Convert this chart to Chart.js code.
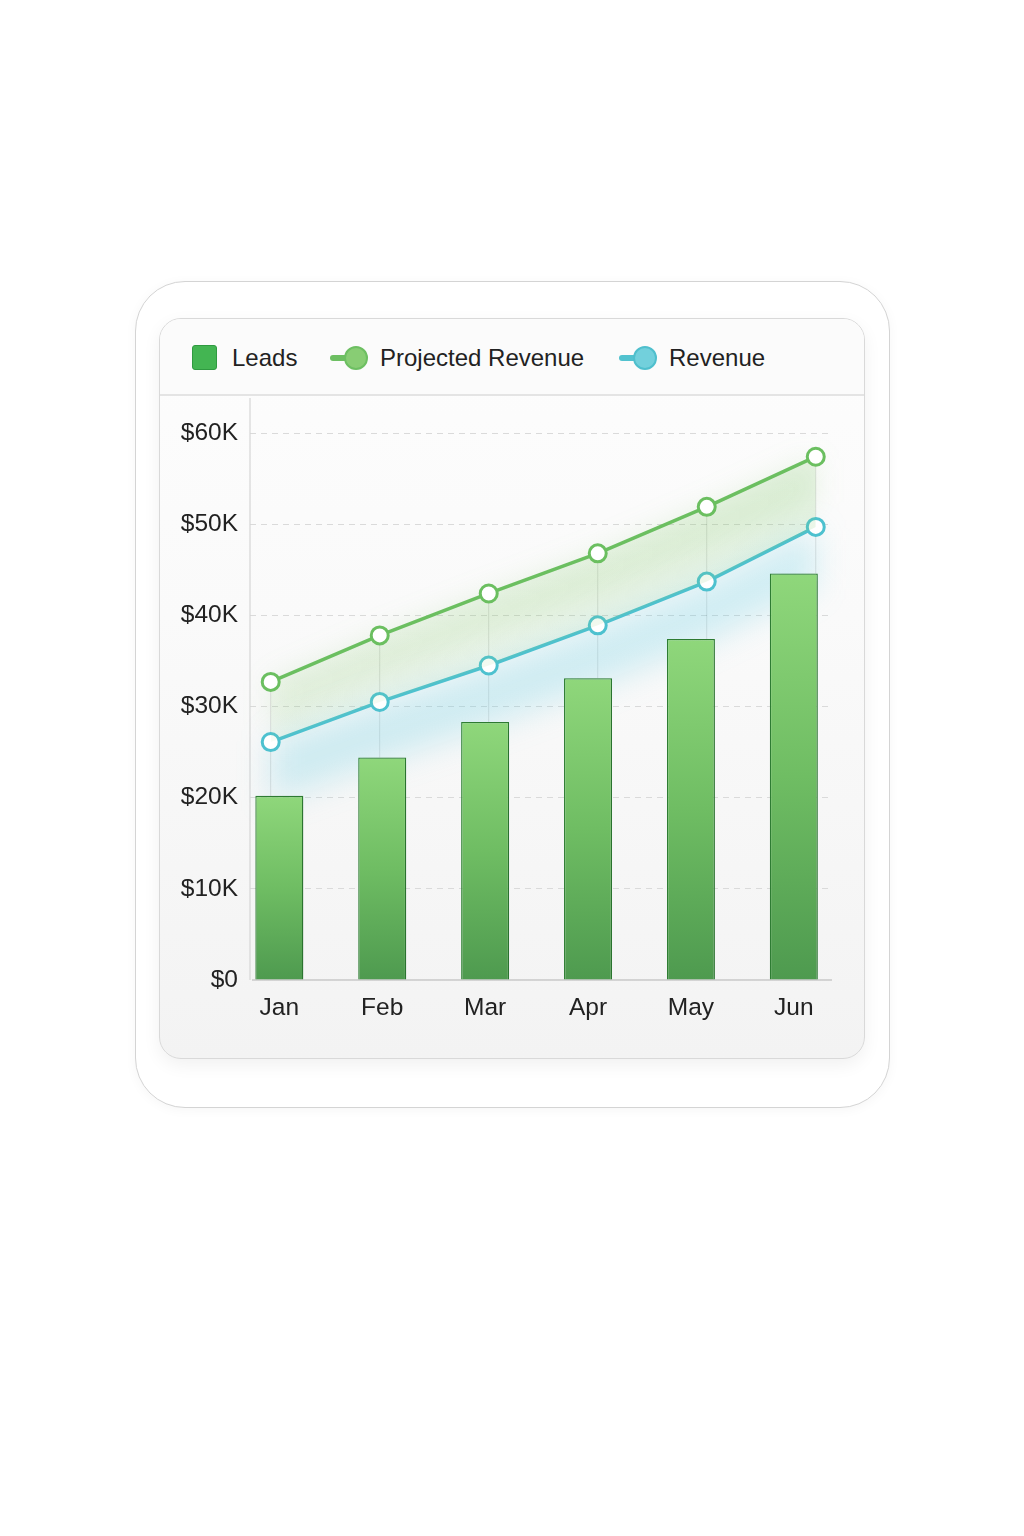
<!DOCTYPE html>
<html>
<head>
<meta charset="utf-8">
<script src="https://cdn.jsdelivr.net/npm/chart.js@4.4.1/dist/chart.umd.min.js"></script>
<style>
html,body{margin:0;padding:0;background:#fff;width:1024px;height:1536px;overflow:hidden;font-family:"Liberation Sans",Arial,sans-serif;}
#card{position:absolute;left:135px;top:281px;width:755px;height:827px;box-sizing:border-box;border:1.5px solid #d4d4d4;border-radius:50px;background:#fff;box-shadow:0 2px 12px rgba(0,0,0,0.04);}
#panel{position:absolute;left:159px;top:318px;width:706px;height:741px;box-sizing:border-box;border:1.5px solid #d9d9d9;border-radius:22px;background:linear-gradient(#fdfdfd,#fafafa 40%,#f3f3f3);box-shadow:0 6px 18px rgba(0,0,0,0.06);overflow:hidden;}
#legend{position:absolute;left:0;top:0;width:100%;height:75px;border-bottom:2px solid #e4e4e4;background:#fbfbfb;}
.item{position:absolute;top:0;height:77px;display:flex;align-items:center;font-size:24px;color:#222;white-space:nowrap;}
.sq{width:25px;height:25px;border-radius:3px;background:#43b552;border:1.5px solid #2f9a40;box-sizing:border-box;margin-right:15px;}
.ln{position:relative;width:38px;height:24px;margin-right:12px;}
.ln .bar{position:absolute;left:0;top:9px;width:24px;height:6px;border-radius:3px;}
.ln .dot{position:absolute;right:0;top:0;width:24px;height:24px;border-radius:50%;box-sizing:border-box;border:2px solid;}
#chartBox{position:absolute;left:160px;top:396px;width:704px;height:660px;}
</style>
</head>
<body>
<div id="card"></div>
<div id="panel">
  <div id="legend">
    <div class="item" style="left:32px"><div class="sq"></div>Leads</div>
    <div class="item" style="left:170px"><div class="ln"><div class="bar" style="background:#6dbf62"></div><div class="dot" style="background:#88cd74;border-color:#6dbf62"></div></div>Projected Revenue</div>
    <div class="item" style="left:459px"><div class="ln"><div class="bar" style="background:#52c2cf"></div><div class="dot" style="background:#72d0dc;border-color:#4fbfcd"></div></div>Revenue</div>
  </div>
</div>
<div id="chartBox"><canvas id="myChart"></canvas></div>
<script>
var months = ["Jan", "Feb", "Mar", "Apr", "May", "Jun"];
var leads = [20200, 24400, 28300, 33100, 37400, 44600];
var projected = [32700, 37800, 42400, 46800, 51900, 57400];
var revenue = [26100, 30500, 34500, 38900, 43700, 49700];
var yTickLabels = ["$0", "$10K", "$20K", "$30K", "$40K", "$50K", "$60K"];

function pts(arr) {
    return arr.map(function (v, i) { return { x: i, y: v }; });
}

function barFill(ctx) {
    var chart = ctx.chart;
    if (!chart.chartArea || !chart.scales.y) return "#6fbf62";
    var y = chart.scales.y;
    var top = y.getPixelForValue(ctx.raw ? ctx.raw.y : 0);
    var bot = y.getPixelForValue(0);
    var g = chart.ctx.createLinearGradient(0, top, 0, bot);
    g.addColorStop(0, "#8fd77b");
    g.addColorStop(0.5, "#6fbd63");
    g.addColorStop(1, "#4e9a4f");
    return g;
}

function bandFill(ctx) {
    var chart = ctx.chart;
    var a = chart.chartArea;
    if (!a) return "rgba(130,200,110,0.12)";
    var g = chart.ctx.createLinearGradient(a.left, 0, a.right, 0);
    g.addColorStop(0, "rgba(150,210,130,0.07)");
    g.addColorStop(1, "rgba(130,200,110,0.16)");
    return g;
}

// vertical guide from each projected point down to the bar top, plus axes
var guides = {
    id: "guides",
    beforeDatasetsDraw: function (chart) {
        var c = chart.ctx, y = chart.scales.y, x2 = chart.scales.x2, a = chart.chartArea;
        c.save();
        c.strokeStyle = "rgba(0,0,0,0.12)";
        c.lineWidth = 1;
        for (var i = 0; i < months.length; i++) {
            var px = x2.getPixelForValue(i);
            c.beginPath();
            c.moveTo(px, y.getPixelForValue(projected[i]));
            c.lineTo(px, y.getPixelForValue(leads[i]));
            c.stroke();
        }
        c.strokeStyle = "#d6d6d6";
        c.lineWidth = 1.2;
        c.beginPath();
        c.moveTo(a.left, 2);
        c.lineTo(a.left, a.bottom);
        c.stroke();
        c.strokeStyle = "#c8c8c8";
        c.lineWidth = 1.5;
        c.beginPath();
        c.moveTo(a.left + 2, a.bottom);
        c.lineTo(a.right, a.bottom);
        c.stroke();
        c.restore();
    }
};

// soft blurred haze under a line dataset
var haze = {
    id: "haze",
    beforeDatasetsDraw: function (chart) {
        var c = chart.ctx;
        chart.data.datasets.forEach(function (ds, di) {
            if (!ds.hazeColor) return;
            var p = chart.getDatasetMeta(di).data;
            c.save();
            c.filter = "blur(" + ds.hazeBlur + "px)";
            c.fillStyle = ds.hazeColor;
            c.beginPath();
            c.moveTo(p[0].x, p[0].y);
            for (var i = 1; i < p.length; i++) c.lineTo(p[i].x, p[i].y);
            for (var j = p.length - 1; j >= 0; j--) c.lineTo(p[j].x, p[j].y + ds.hazeDepth);
            c.closePath();
            c.fill();
            c.restore();
        });
    }
};

var glow = {
    id: "glow",
    beforeDatasetDraw: function (chart, args) {
        var ds = chart.data.datasets[args.index];
        if (!ds.glowColor) return;
        var c = chart.ctx;
        c.save();
        c.shadowColor = ds.glowColor;
        c.shadowBlur = ds.glowBlur;
        c.shadowOffsetX = ds.glowX || 0;
        c.shadowOffsetY = ds.glowY || 0;
    },
    afterDatasetDraw: function (chart, args) {
        var ds = chart.data.datasets[args.index];
        if (!ds.glowColor) return;
        chart.ctx.restore();
    }
};

var ctx = document.getElementById("myChart").getContext("2d");
var myChart = new Chart(ctx, {
    type: "bar",
    data: {
        datasets: [
            {
                type: "bar",
                label: "Leads",
                data: pts(leads),
                xAxisID: "x",
                backgroundColor: barFill,
                borderColor: "#2f8034",
                borderWidth: 1.3,
                grouped: false,
                maxBarThickness: 48,
                order: 3,
                glowColor: "rgba(0,0,0,0.14)",
                glowBlur: 16,
                glowX: 6,
                glowY: 2
            },
            {
                type: "line",
                label: "Projected Revenue",
                data: pts(projected),
                xAxisID: "x2",
                borderColor: "#6bbf60",
                borderWidth: 3.5,
                pointRadius: 8.5,
                pointHoverRadius: 8.5,
                pointBorderWidth: 3,
                pointBackgroundColor: "#fff",
                pointBorderColor: "#6bbf60",
                fill: "+1",
                backgroundColor: bandFill,
                tension: 0,
                order: 1,
                hazeColor: "rgba(120,195,95,0.15)",
                hazeBlur: 14,
                hazeDepth: 45
            },
            {
                type: "line",
                label: "Revenue",
                data: pts(revenue),
                xAxisID: "x2",
                borderColor: "#4dc1cf",
                borderWidth: 3.5,
                pointRadius: 8.5,
                pointHoverRadius: 8.5,
                pointBorderWidth: 3,
                pointBackgroundColor: "#fff",
                pointBorderColor: "#4dc1cf",
                fill: false,
                tension: 0,
                order: 2,
                hazeColor: "rgba(90,200,225,0.26)",
                hazeBlur: 16,
                hazeDepth: 60
            }
        ]
    },
    options: {
        responsive: true,
        maintainAspectRatio: false,
        animation: false,
        layout: { padding: { top: 37, right: 32, left: 0, bottom: 0 } },
        plugins: { legend: { display: false }, tooltip: { enabled: false } },
        scales: {
            x: {
                type: "linear",
                offset: false,
                min: -0.285,
                max: 5.371,
                afterBuildTicks: function (s) { s.ticks = months.map(function (m, i) { return { value: i }; }); },
                afterFit: function (s) { s.height = 76; },
                ticks: {
                    callback: function (v) { return months[v]; },
                    color: "#222",
                    font: { family: "Liberation Sans", size: 24.5 },
                    padding: 14,
                    maxRotation: 0
                },
                grid: { display: false, drawTicks: false },
                border: { display: false }
            },
            x2: {
                type: "linear",
                offset: false,
                min: -0.19,
                max: 5.149,
                display: false
            },
            y: {
                min: 0,
                max: 60000,
                afterBuildTicks: function (s) { s.ticks = yTickLabels.map(function (t, i) { return { value: i * 10000 }; }); },
                afterFit: function (s) { s.width = 90; },
                ticks: {
                    callback: function (v) { return yTickLabels[v / 10000]; },
                    color: "#222",
                    font: { family: "Liberation Sans", size: 24.5 },
                    padding: 12
                },
                grid: {
                    color: function (c) { return c.tick && c.tick.value === 0 ? "rgba(0,0,0,0)" : "#dadada"; },
                    drawTicks: false,
                    lineWidth: 1
                },
                border: { display: false, dash: [6, 5] }
            }
        }
    },
    plugins: [guides, haze, glow]
});
</script>
</body>
</html>
